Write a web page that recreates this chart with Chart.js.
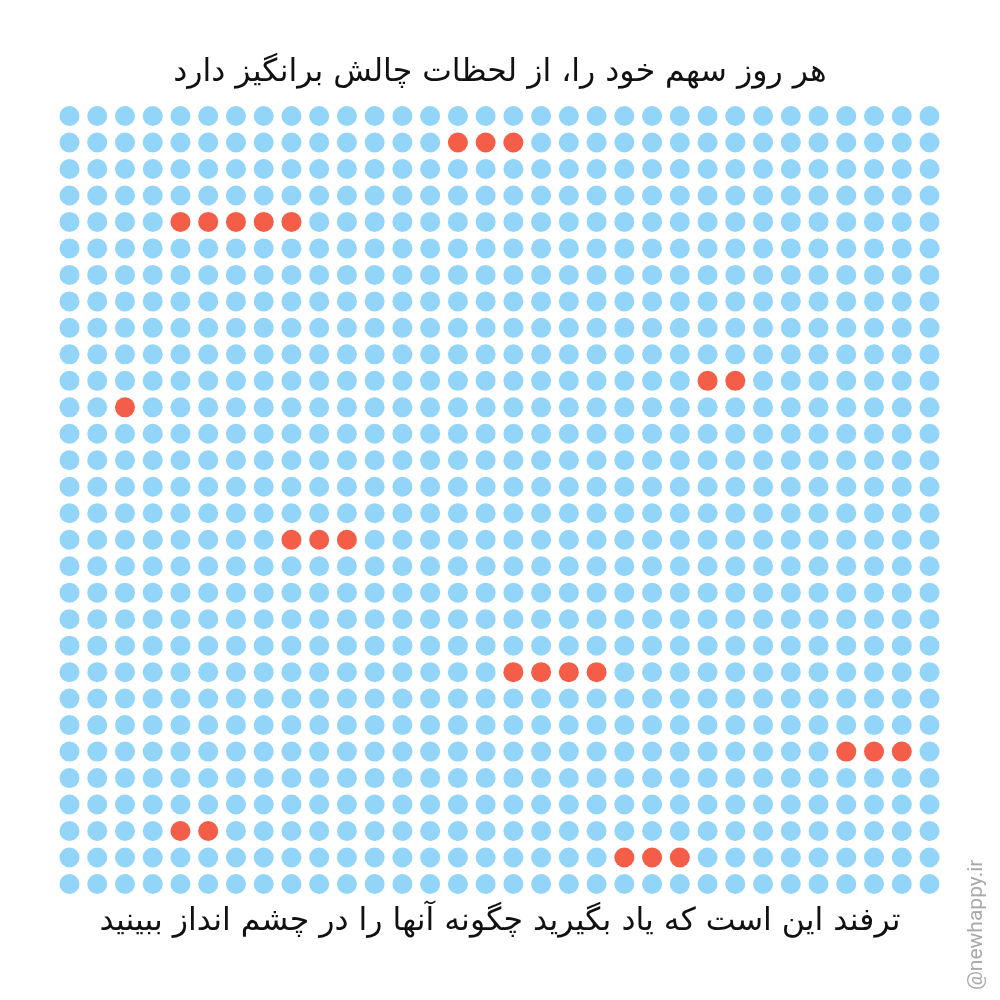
<!DOCTYPE html>
<html>
<head>
<meta charset="utf-8">
<script src="https://cdn.jsdelivr.net/npm/chart.js@4"></script>
<style>
  body { margin: 0; background: #fff; }
  #wrap { position: relative; width: 1000px; height: 1000px; }
  #title, #caption {
    position: absolute; left: 0; width: 1000px; text-align: center;
    direction: rtl; font-family: "DejaVu Sans", sans-serif; color: #111;
    line-height: 1.2;
  }
  #title { top: 52px; font-size: 31.5px; }
  #caption { top: 901px; font-size: 31.5px; }
  #mark {
    position: absolute; left: 963px; top: 990px; transform-origin: 0 0;
    transform: rotate(-90deg); font-family: "Roboto", sans-serif;
    font-size: 21px; color: #a8a8a8; white-space: nowrap;
  }
</style>
</head>
<body>
<div id="wrap">
  <canvas id="dots" width="1000" height="1000"></canvas>
  <div id="title">هر روز سهم خود را، از لحظات چالش برانگیز دارد</div>
  <div id="caption">ترفند این است که یاد بگیرید چگونه آنها را در چشم انداز ببینید</div>
  <div id="mark">@newhappy.ir</div>
</div>
<script>
// grid size
const numCols = 32;
const numRows = 30;

// highlighted (red) dots: row index and columns in that row
const redRows = [1, 4, 10, 11, 16, 21, 24, 27, 28];
const redCols = [
  [14, 15, 16],
  [4, 5, 6, 7, 8],
  [23, 24],
  [2],
  [8, 9, 10],
  [16, 17, 18, 19],
  [28, 29, 30],
  [4, 5],
  [20, 21, 22]
];

const blue = "#93d4f9";
const red = "#f45d47";

const redSet = new Set();
redRows.forEach((r, i) => redCols[i].forEach(c => redSet.add(r + "," + c)));

const bluePts = [];
const redPts = [];
for (let r = 0; r < numRows; r++) {
  for (let c = 0; c < numCols; c++) {
    if (redSet.has(r + "," + c)) redPts.push({ x: c, y: r });
    else bluePts.push({ x: c, y: r });
  }
}

const ctx = document.getElementById("dots").getContext("2d");
new Chart(ctx, {
  type: "scatter",
  data: {
    datasets: [
      { data: bluePts, backgroundColor: blue, borderWidth: 0, pointRadius: 10, clip: false },
      { data: redPts, backgroundColor: red, borderWidth: 0, pointRadius: 10, clip: false }
    ]
  },
  options: {
    responsive: false,
    animation: false,
    layout: { padding: { left: 69.5, right: 70.5, top: 116, bottom: 116 } },
    scales: {
      x: { display: false, min: 0, max: numCols - 1 },
      y: { display: false, min: 0, max: numRows - 1, reverse: true }
    },
    plugins: { legend: { display: false }, tooltip: { enabled: false } }
  }
});
</script>
</body>
</html>
